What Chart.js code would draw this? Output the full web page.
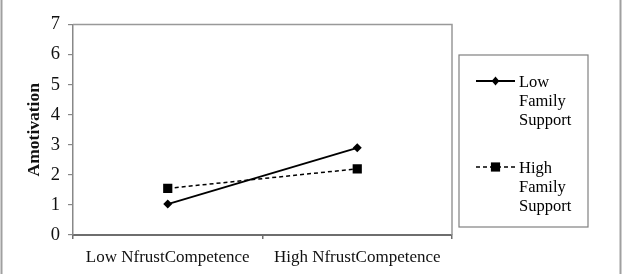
<!DOCTYPE html>
<html>
<head>
<meta charset="utf-8">
<script src="https://cdn.jsdelivr.net/npm/chart.js"></script>
<style>
  html, body { margin: 0; padding: 0; background: #fff; }
  #wrap { width: 630px; height: 274px; }
</style>
</head>
<body>
<div id="wrap"><canvas id="chart" width="630" height="274"></canvas></div>
<script>
// data
var categories = ["Low NfrustCompetence", "High NfrustCompetence"];
var seriesNames = ["Low Family Support", "High Family Support"];
var lowSupport = [1.03, 2.9];
var highSupport = [1.55, 2.2];
var yTicks = [0, 1, 2, 3, 4, 5, 6, 7];

var serif = "'Liberation Serif', 'Times New Roman', serif";

function drawMarker(ctx, style, x, y, r) {
  ctx.beginPath();
  if (style === 'rect') {
    var s = r * Math.SQRT1_2;
    ctx.rect(x - s, y - s, 2 * s, 2 * s);
  } else {
    ctx.moveTo(x, y - r);
    ctx.lineTo(x + r * 0.85, y);
    ctx.lineTo(x, y + r);
    ctx.lineTo(x - r * 0.85, y);
    ctx.closePath();
  }
  ctx.fillStyle = '#000';
  ctx.fill();
}

// plot box, outer frame and the wrapped legend
var framePlugin = {
  id: 'frame',
  afterDraw: function(chart) {
    var ctx = chart.ctx;
    var a = chart.chartArea;
    ctx.save();
    // top + right sides of the plot box
    ctx.strokeStyle = '#999';
    ctx.lineWidth = 1.5;
    ctx.beginPath();
    ctx.moveTo(a.left, a.top);
    ctx.lineTo(a.right, a.top);
    ctx.lineTo(a.right, a.bottom);
    ctx.stroke();

    // outer figure frame (left / right only)
    ctx.strokeStyle = '#a0a0a0';
    ctx.lineWidth = 2;
    ctx.beginPath();
    ctx.moveTo(1.5, 0); ctx.lineTo(1.5, 274);
    ctx.moveTo(620.5, 0); ctx.lineTo(620.5, 274);
    ctx.stroke();

    // legend box
    ctx.strokeStyle = '#808080';
    ctx.lineWidth = 1.2;
    ctx.strokeRect(459, 55, 129, 172);

    var items = chart.data.datasets;
    var rowY = [81, 167];
    ctx.font = '16.5px ' + serif;
    ctx.textBaseline = 'middle';
    ctx.textAlign = 'left';
    for (var i = 0; i < items.length; i++) {
      var ds = items[i];
      var y = rowY[i];
      ctx.strokeStyle = '#000';
      ctx.lineWidth = ds.borderWidth;
      ctx.setLineDash(ds.borderDash || []);
      ctx.beginPath();
      ctx.moveTo(476, y);
      ctx.lineTo(515, y);
      ctx.stroke();
      ctx.setLineDash([]);
      drawMarker(ctx, ds.pointStyle, 495.5, y, ds.pointStyle === 'rect' ? 6.5 : 4.5);
      ctx.fillStyle = '#000';
      var words = ds.label.split(' ');
      for (var j = 0; j < words.length; j++) {
        ctx.fillText(words[j], 519, y + 2 + j * 19);
      }
    }
    ctx.restore();
  }
};

new Chart(document.getElementById('chart'), {
  type: 'line',
  data: {
    labels: categories,
    datasets: [{
      label: seriesNames[0],
      data: lowSupport,
      borderColor: '#000',
      backgroundColor: '#000',
      borderWidth: 1.8,
      pointStyle: 'rectRot',
      pointRadius: 4.5,
      pointHoverRadius: 4.5,
      pointBorderWidth: 0,
      pointBackgroundColor: '#000',
      fill: false,
      tension: 0
    }, {
      label: seriesNames[1],
      data: highSupport,
      borderColor: '#000',
      backgroundColor: '#000',
      borderWidth: 1.5,
      borderDash: [4, 3],
      pointStyle: 'rect',
      pointRadius: 6.5,
      pointHoverRadius: 6.5,
      pointBorderWidth: 0,
      pointBackgroundColor: '#000',
      fill: false,
      tension: 0
    }]
  },
  options: {
    responsive: false,
    animation: false,
    events: [],
    layout: { padding: { top: 24.5, right: 178, left: 0, bottom: 0 } },
    plugins: {
      legend: { display: false },
      tooltip: { enabled: false }
    },
    scales: {
      x: {
        offset: true,
        border: { color: '#6e6e6e', width: 2 },
        grid: { offset: true, drawOnChartArea: false, tickLength: 4, color: '#6e6e6e', lineWidth: 1.5 },
        ticks: { color: '#111', padding: 8, maxRotation: 0, font: { family: serif, size: 17 } },
        afterFit: function(scale) { scale.height = 39; }
      },
      y: {
        min: 0,
        max: 7,
        afterBuildTicks: function(scale) {
          scale.ticks = yTicks.map(function(v) { return { value: v }; });
        },
        border: { color: '#888', width: 1.5 },
        grid: { drawOnChartArea: false, tickLength: 5, color: '#888', lineWidth: 1.2 },
        ticks: { color: '#111', padding: 8, font: { family: serif, size: 18.5 } },
        title: {
          display: true,
          text: 'Amotivation',
          color: '#111',
          padding: { top: 24, bottom: 0 },
          font: { family: serif, size: 17.5, weight: 'bold' }
        },
        afterFit: function(scale) { scale.width = 73; }
      }
    }
  },
  plugins: [framePlugin]
});
</script>
</body>
</html>
